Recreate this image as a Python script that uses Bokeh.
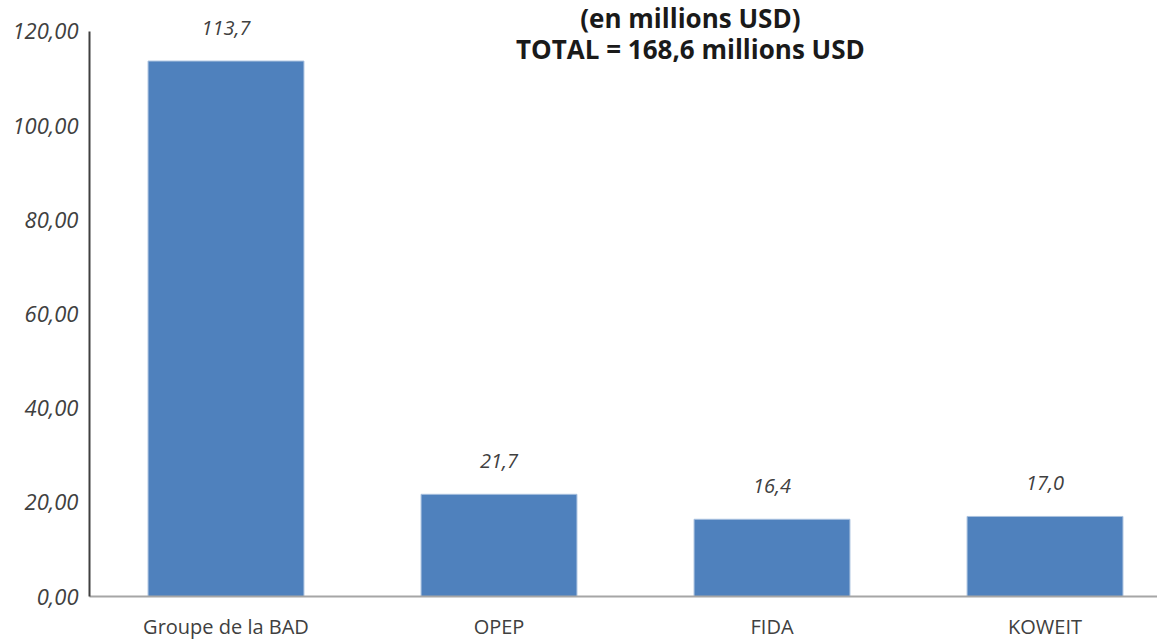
from bokeh.plotting import figure
from bokeh.models import Range1d, FixedTicker, ColumnDataSource
from bokeh.core.properties import value
from bokeh.embed import file_html
from bokeh.resources import INLINE

categories = ["Groupe de la BAD", "OPEP", "FIDA", "KOWEIT"]
values = [113.7, 21.7, 16.4, 17.0]
value_labels = ["113,7", "21,7", "16,4", "17,0"]
y_ticks = [0, 20, 40, 60, 80, 100, 120]
y_tick_labels = ["0,00", "20,00", "40,00", "60,00", "80,00", "100,00", "120,00"]
title_lines = ["(en millions USD)", "TOTAL = 168,6 millions USD"]

FONT = "Open Sans"
xs = [i + 0.5 for i in range(len(categories))]

p = figure(width=1157, height=642, output_backend="svg", toolbar_location=None,
           x_range=Range1d(0, 3.912), y_range=Range1d(0, 126.56),
           min_border_left=89, min_border_right=0, min_border_top=0, min_border_bottom=45)
p.outline_line_color = None
p.background_fill_color = "white"
p.border_fill_color = "white"
p.xgrid.visible = False
p.ygrid.visible = False

src = ColumnDataSource(dict(x=xs, top=values, lab=value_labels))
p.vbar(x="x", top="top", bottom=0, width=0.571, source=src,
       fill_color="#4F81BD", line_color="#A9C1DF", line_width=1)
p.text(x="x", y="top", text="lab", source=src, text_align="center",
       text_baseline="alphabetic", y_offset=-33,
       text_font=value(FONT), text_font_size="20px", text_font_style="italic",
       text_color="#404040")

# title lines
p.text(x=[2.201, 2.201], y=[120.84, 114.27], text=title_lines,
       text_align="center", text_baseline="alphabetic", y_offset=-9,
       text_font=value(FONT), text_font_size="26px", text_font_style="bold",
       text_color="#1a1a1a")

ya = p.yaxis[0]
ya.ticker = FixedTicker(ticks=y_ticks)
ya.major_label_overrides = {t: l for t, l in zip(y_ticks, y_tick_labels)}
ya.bounds = (0, 120)
ya.axis_line_color = "#404040"
ya.axis_line_width = 2
ya.major_tick_line_color = None
ya.minor_tick_line_color = None
ya.major_label_text_font = FONT
ya.major_label_text_font_size = "22px"
ya.major_label_text_font_style = "italic"
ya.major_label_text_color = "#404040"
ya.major_label_standoff = 5

xa = p.xaxis[0]
xa.ticker = FixedTicker(ticks=xs)
xa.major_label_overrides = {x: c for x, c in zip(xs, categories)}
xa.axis_line_color = "#A6A6A6"
xa.axis_line_width = 2
xa.major_tick_line_color = None
xa.minor_tick_line_color = None
xa.major_label_text_font = FONT
xa.major_label_text_font_size = "20px"
xa.major_label_text_color = "#404040"
xa.major_label_standoff = 10

open("out.html", "w").write(file_html(p, INLINE))
